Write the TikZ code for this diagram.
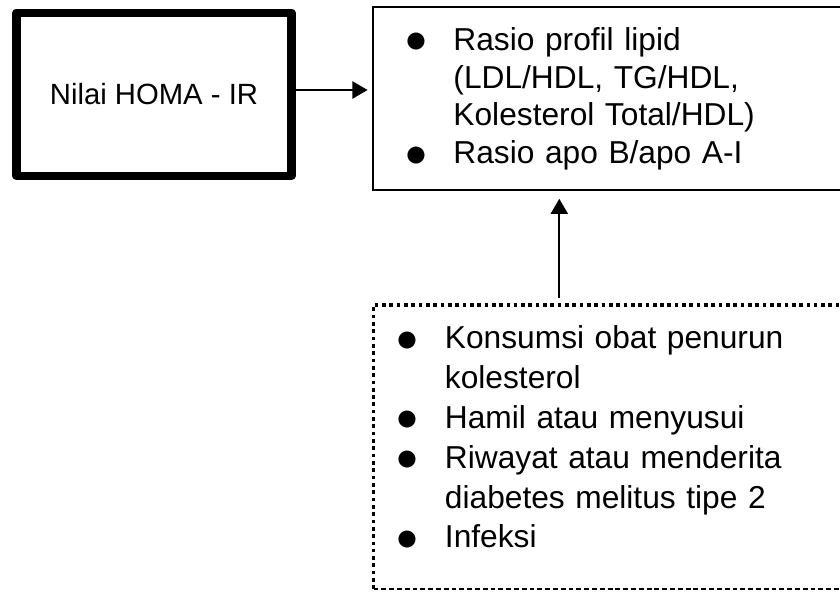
\documentclass[tikz,border=0pt]{standalone}
\usepackage{graphicx}
\usepackage{fontspec}
\setmainfont{Liberation Sans}
\usetikzlibrary{arrows.meta}
\newcommand{\bt}{\raisebox{-1pt}{\scalebox{1.5}{$\bullet$}}}
\newcommand{\daftar}[1]{\begin{tabular}[t]{@{}p{19.8pt}@{}l@{}}#1\end{tabular}}

\begin{document}
\begin{tikzpicture}[x=0.41pt,y=-0.41pt,
    tebal/.style={draw,line width=3.3pt,line join=round,minimum width=112.75pt,minimum height=67pt,font=\fontsize{12}{14}\selectfont},
    kotak/.style={anchor=north west,align=left,text width=#1},
    titik/.style={line width=1.5pt,dash pattern=on 1.5pt off 1.5pt},
    garis/.style={line width=0.7pt,dash pattern=on 2pt off 1.2pt},
    panah/.style={line width=0.8pt,-{Triangle[length=6.2pt,width=7pt]}}]
  \useasboundingbox (0,0) rectangle (840,593);
  \clip (0,0) rectangle (840,593);
  \node[tebal] (HOMA) at (154,94.25) {Nilai HOMA - IR};
  \node[kotak=173pt,draw,line width=0.8pt,inner xsep=13.2pt,inner ysep=6.9pt,text depth=50.5pt,
        font=\fontsize{13}{15.5}\selectfont] (LIPID) at (372,6)
       {\daftar{\bt & Rasio profil lipid\\
                    & (LDL/HDL, TG/HDL,\\
                    & Kolesterol Total/HDL)\\
                \bt & Rasio apo B/apo A-I}};
  \node[kotak=180pt,outer sep=0pt,inner xsep=9.5pt,inner ysep=6.63pt,text depth=91.8pt,
        font=\fontsize{13}{16.3}\selectfont] (FAKTOR) at (373.5,305)
       {\daftar{\bt & Konsumsi obat penurun\\
                    & kolesterol\\
                \bt & Hamil atau menyusui\\
                \bt & Riwayat atau menderita\\
                    & diabetes melitus tipe 2\\
                \bt & Infeksi}};
  \draw[titik] (FAKTOR.south west) -- (FAKTOR.north west) -- (FAKTOR.north east);
  \draw[garis] (FAKTOR.south west) -- (FAKTOR.south east);
  \coordinate (tengah) at (559.3,250);
  \draw[panah,shorten >=1.8pt] ([yshift=1.74pt]HOMA.east) -- ([yshift=1.74pt]HOMA.east -| LIPID.west);
  \draw[panah,shorten <=2.9pt,shorten >=3.1pt] (FAKTOR.north -| tengah) -- (LIPID.south -| tengah);
\end{tikzpicture}
\end{document}
